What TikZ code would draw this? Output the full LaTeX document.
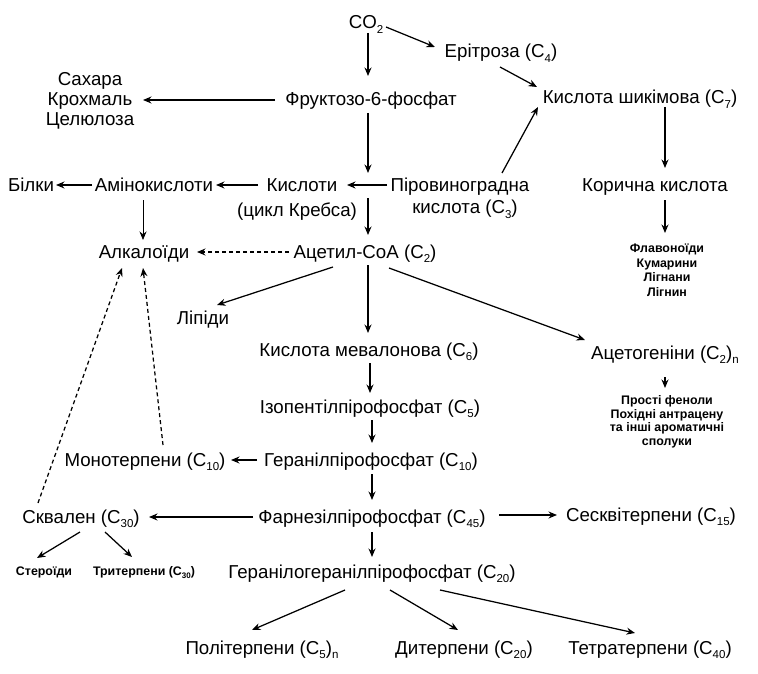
\documentclass[tikz,border=0pt]{standalone}
\usepackage{fontspec}
\setmainfont{Liberation Sans}
\usetikzlibrary{arrows.meta,calc}
\newcommand\csub[1]{\raisebox{-4.5pt}{\fontsize{11.5}{12}\selectfont #1}}
\begin{document}
\begin{tikzpicture}[x=1pt,y=-1pt,
  lbl/.style={inner sep=0pt, anchor=base, font=\fontsize{18.7}{20}\selectfont},
  sml/.style={inner sep=0pt, anchor=base, font=\fontsize{12.4}{14}\selectfont\bfseries},
  arr/.style={line width=1.25pt, -{Stealth[length=8.5pt,width=7pt]}},
  darr/.style={arr, dash pattern=on 4pt off 3pt},
]
\fill[white] (0,0) rectangle (758,674);
\useasboundingbox (0,0) rectangle (758,674);

% nodes
\node[lbl] (co2) at (366,29) {CO\csub{2}};
\node[lbl] (eritr) at (501,58) {Ерітроза (C\csub{4})};
\node[lbl] (sakh1) at (90,86) {Сахара};
\node[lbl] (sakh2) at (90,106) {Крохмаль};
\node[lbl] (sakh3) at (90,126) {Целюлоза};
\node[lbl] (fruct) at (371,106) {Фруктозо-6-фосфат};
\node[lbl] (shik) at (640,104) {Кислота шикімова (C\csub{7})};
\node[lbl] (bilky) at (31,191) {Білки};
\node[lbl] (amino) at (154,191) {Амінокислоти};
\node[lbl] (kysl) at (302,191) {Кислоти};
\node[lbl] (krebs) at (297,216) {(цикл Кребса)};
\node[lbl] (pirov1) at (460,191) {Піровиноградна};
\node[lbl] (pirov2) at (465,214) {кислота (C\csub{3})};
\node[lbl] (korych) at (655,191) {Корична кислота};
\node[lbl] (alk) at (144,258) {Алкалоїди};
\node[lbl] (acetyl) at (365,258) {Ацетил-СоА (C\csub{2})};
\node[sml] (flav1) at (667,252.5) {Флавоноїди};
\node[sml] (flav2) at (667,267) {Кумарини};
\node[sml] (flav3) at (667,281.5) {Лігнани};
\node[sml] (flav4) at (667,296) {Лігнин};
\node[lbl] (lipidy) at (203,324) {Ліпіди};
\node[lbl] (meval) at (369,356) {Кислота мевалонова (C\csub{6})};
\node[lbl] (acetog) at (665,359) {Ацетогеніни (C\csub{2})\csub{n}};
\node[sml] (prosti1) at (667,404.5) {Прості феноли};
\node[sml] (prosti2) at (667,418) {Похідні антрацену};
\node[sml] (prosti3) at (667,431.5) {та інші ароматичні};
\node[sml] (prosti4) at (667,445) {сполуки};
\node[lbl] (isopent) at (370,413) {Ізопентілпірофосфат (C\csub{5})};
\node[lbl] (geranyl) at (371,466) {Геранілпірофосфат (C\csub{10})};
\node[lbl] (mono) at (145,466) {Монотерпени (C\csub{10})};
\node[lbl] (skval) at (81,523) {Сквален (C\csub{30})};
\node[lbl] (farn) at (372,523) {Фарнезілпірофосфат (C\csub{45})};
\node[lbl] (sesk) at (651,521) {Сесквітерпени (C\csub{15})};
\node[sml] (steroid) at (44,575) {Стероїди};
\node[sml] (triterp) at (144,575) {Тритерпени (C{\fontsize{8}{8}\selectfont\raisebox{-3pt}{30}})};
\node[lbl] (ggpp) at (372,578) {Геранілогеранілпірофосфат (C\csub{20})};
\node[lbl] (politer) at (262,654) {Політерпени (C\csub{5})\csub{n}};
\node[lbl] (diter) at (464,654) {Дитерпени (C\csub{20})};
\node[lbl] (tetra) at (650,654) {Тетратерпени (C\csub{40})};

% connectors
\draw[arr] ($(co2.base)+(2,4)$) -- ($(fruct.base)+(-3,-30)$);
\draw[arr] ($(co2.base)+(20,-2)$) -- ($(eritr.base)+(-66,-11)$);
\draw[arr] ($(eritr.base)+(-1,9)$) -- ($(shik.base)+(-103,-17)$);
\draw[arr] ($(fruct.base)+(-96,-6)$) -- ($(sakh2.base)+(53,-6)$);
\draw[arr] ($(fruct.base)+(-3,7)$) -- ($(kysl.base)+(66,-18)$);
\draw[arr] ($(pirov1.base)+(-73,-6)$) -- ($(kysl.base)+(45,-6)$);
\draw[arr] ($(pirov1.base)+(42,-18)$) -- ($(shik.base)+(-102,3)$);
\draw[arr] ($(kysl.base)+(-44,-6)$) -- ($(amino.base)+(62,-6)$);
\draw[arr] ($(amino.base)+(-62,-6)$) -- ($(bilky.base)+(25,-6)$);
\draw[arr, line width=0.8pt] ($(amino.base)+(-11,9)$) -- ($(alk.base)+(-1,-18)$);
\draw[arr] ($(krebs.base)+(71,-18)$) -- ($(acetyl.base)+(3,-23)$);
\draw[darr] ($(acetyl.base)+(-76,-6)$) -- ($(alk.base)+(53,-6)$);
\draw[arr] ($(shik.base)+(25,3)$) -- ($(korych.base)+(10,-23)$);
\draw[arr] ($(korych.base)+(10,9)$) -- ($(flav1.base)+(-2,-19.5)$);
\draw[arr] ($(acetyl.base)+(-32,9)$) -- ($(lipidy.base)+(14,-19)$);
\draw[arr] ($(acetyl.base)+(3,7)$) -- ($(meval.base)+(-1,-23)$);
\draw[arr] ($(acetyl.base)+(24,10)$) -- ($(acetog.base)+(-80,-19)$);
\draw[arr] ($(acetog.base)+(0,18)$) -- ($(prosti1.base)+(-2,-16.5)$);
\draw[arr] ($(meval.base)+(1,7)$) -- ($(isopent.base)+(0,-20)$);
\draw[arr] ($(isopent.base)+(2,7)$) -- ($(geranyl.base)+(1,-23)$);
\draw[arr] ($(geranyl.base)+(-114,-6)$) -- ($(mono.base)+(86,-6)$);
\draw[arr] ($(geranyl.base)+(1,8)$) -- ($(farn.base)+(0,-23)$);
\draw[arr] ($(farn.base)+(-119,-6)$) -- ($(skval.base)+(68,-6)$);
\draw[arr] ($(farn.base)+(127,-8)$) -- ($(sesk.base)+(-94,-6)$);
\draw[arr] ($(farn.base)+(0,9)$) -- ($(ggpp.base)+(0,-21)$);
\draw[arr] ($(skval.base)+(-1,9)$) -- ($(steroid.base)+(-7,-17)$);
\draw[arr] ($(skval.base)+(24,9)$) -- ($(triterp.base)+(-12,-18)$);
\draw[arr] ($(ggpp.base)+(-27,12)$) -- ($(politer.base)+(-10,-24)$);
\draw[arr] ($(ggpp.base)+(18,12)$) -- ($(diter.base)+(-6,-24)$);
\draw[arr] ($(ggpp.base)+(68,12)$) -- ($(tetra.base)+(-15,-21)$);
\draw[darr] ($(mono.base)+(18,-21)$) -- ($(alk.base)+(-1,10)$);
\draw[darr] ($(skval.base)+(-43,-20)$) -- ($(alk.base)+(-22,10)$);
\end{tikzpicture}
\end{document}
